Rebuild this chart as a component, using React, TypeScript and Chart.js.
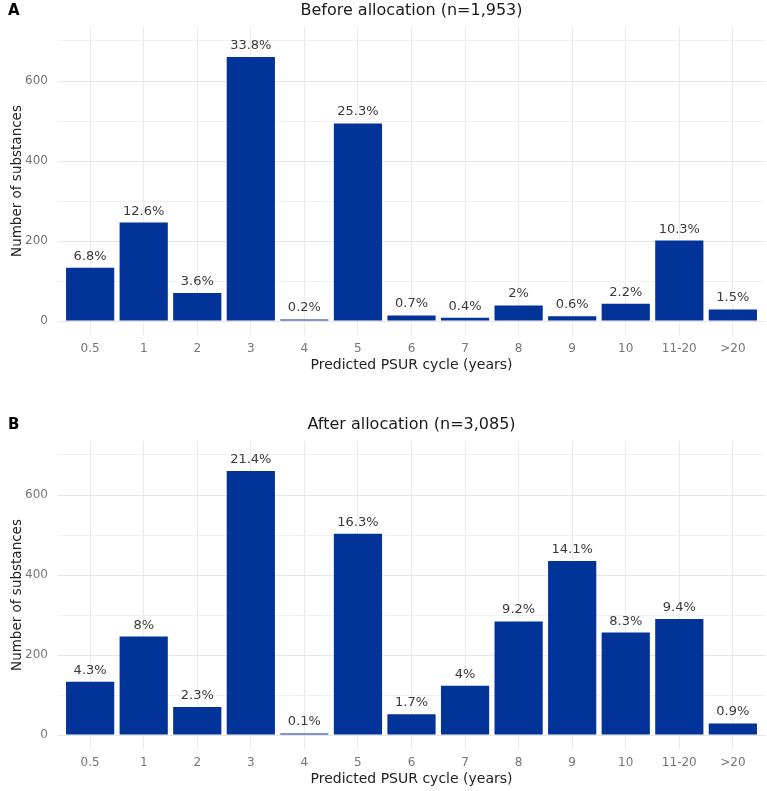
import React, { useEffect, useRef } from "react";
import { Chart, registerables } from "chart.js";

Chart.register(...registerables);

// PSUR cycle categories on the x axis
const categories = ["0.5", "1", "2", "3", "4", "5", "6", "7", "8", "9", "10", "11-20", ">20"];

// Number of substances per predicted cycle
const countsBefore = [133, 246, 70, 660, 4, 494, 14, 8, 39, 12, 43, 201, 29];
const countsAfter = [133, 246, 70, 660, 4, 503, 52, 123, 284, 435, 256, 290, 29];

const totalBefore = 1953;
const totalAfter = 3085;

// y grid: labelled every 200, lighter lines in between
const yGridValues = [0, 100, 200, 300, 400, 500, 600, 700];
const yLabelledValues = [0, 200, 400, 600];

const FONT = "'DejaVu Sans', Verdana, sans-serif";
const BAR_COLOR = "#013399";

function pctLabel(v: number, n: number): string {
  const s = ((v / n) * 100).toFixed(1);
  return (s.endsWith(".0") ? s.slice(0, -2) : s) + "%";
}

type PanelProps = {
  letter: string;
  title: string;
  counts: number[];
  total: number;
  top: number;
};

function Panel({ letter, title, counts, total, top }: PanelProps) {
  const ref = useRef<HTMLCanvasElement | null>(null);

  useEffect(() => {
    if (!ref.current) return;

    const textPlugin = {
      id: "panelText",
      afterDatasetsDraw(chart: any) {
        const { ctx } = chart;
        const meta = chart.getDatasetMeta(0);
        ctx.save();
        // value labels above bars
        ctx.fillStyle = "#3a3a3a";
        ctx.font = `13px ${FONT}`;
        ctx.textAlign = "center";
        ctx.textBaseline = "alphabetic";
        meta.data.forEach((bar: any, i: number) => {
          ctx.fillText(pctLabel(counts[i], total), bar.x, bar.y - 8);
        });
        ctx.restore();
      },
      afterDraw(chart: any) {
        const { ctx, chartArea } = chart;
        const cx = (chartArea.left + chartArea.right) / 2;
        ctx.save();
        // panel letter
        ctx.fillStyle = "#000";
        ctx.font = `bold 15px ${FONT}`;
        ctx.textAlign = "left";
        ctx.textBaseline = "middle";
        ctx.fillText(letter, 8, 11);
        // main title
        ctx.fillStyle = "#1a1a1a";
        ctx.font = `16px ${FONT}`;
        ctx.textAlign = "center";
        ctx.fillText(title, cx, 11);
        // x axis title
        ctx.fillStyle = "#222";
        ctx.font = `14px ${FONT}`;
        ctx.fillText("Predicted PSUR cycle (years)", cx, chartArea.bottom + 30);
        // y axis title
        ctx.font = `13.5px ${FONT}`;
        ctx.translate(17, (chartArea.top + chartArea.bottom) / 2);
        ctx.rotate(-Math.PI / 2);
        ctx.fillText("Number of substances", 0, 0);
        ctx.restore();
      },
    };

    const chart = new Chart(ref.current, {
      type: "bar",
      data: {
        datasets: [
          {
            data: counts.map((v, i) => ({ x: i, y: v })),
            backgroundColor: BAR_COLOR,
            borderWidth: 0,
            barPercentage: 0.9,
            categoryPercentage: 1,
          },
        ],
      },
      options: {
        animation: false,
        responsive: false,
        maintainAspectRatio: false,
        layout: { padding: { top: 27, left: 0, right: 2, bottom: 0 } },
        plugins: {
          legend: { display: false },
          tooltip: { enabled: false },
          title: { display: false },
        },
        scales: {
          x: {
            type: "linear",
            min: -0.6,
            max: categories.length - 1 + 0.6,
            offset: false,
            afterBuildTicks: (scale: any) => {
              scale.ticks = categories.map((_, i) => ({ value: i }));
            },
            afterFit: (scale: any) => {
              scale.height = 43;
            },
            grid: {
              offset: false,
              color: "#ebebeb",
              lineWidth: 1,
              drawTicks: false,
            },
            border: { display: false },
            ticks: {
              autoSkip: false,
              maxRotation: 0,
              padding: 7,
              color: "#757575",
              font: { family: FONT, size: 12 },
              callback: (v: any) => categories[Number(v)] ?? "",
            },
          },
          y: {
            type: "linear",
            min: -35,
            max: 735,
            afterBuildTicks: (scale: any) => {
              scale.ticks = yGridValues.map((v) => ({ value: v }));
            },
            afterFit: (scale: any) => {
              scale.width = 58;
            },
            grid: {
              color: (c: any) =>
                yLabelledValues.includes(c.tick?.value) ? "#e6e6e6" : "#f1f1f1",
              lineWidth: 1,
              drawTicks: false,
            },
            border: { display: false },
            ticks: {
              padding: 10,
              color: "#757575",
              font: { family: FONT, size: 12 },
              callback: (v: any) => (yLabelledValues.includes(Number(v)) ? String(v) : ""),
            },
          },
        },
      },
      plugins: [textPlugin],
    });

    return () => chart.destroy();
  }, [letter, title, counts, total]);

  return (
    <canvas
      ref={ref}
      width={767}
      height={378}
      style={{ position: "absolute", left: 0, top, width: 767, height: 378 }}
    />
  );
}

export default function App() {
  return (
    <div
      style={{
        position: "absolute",
        left: 0,
        top: 0,
        width: 767,
        height: 791,
        background: "#fff",
        overflow: "hidden",
      }}
    >
      <Panel letter="A" title="Before allocation (n=1,953)" counts={countsBefore} total={totalBefore} top={0} />
      <Panel letter="B" title="After allocation (n=3,085)" counts={countsAfter} total={totalAfter} top={414} />
    </div>
  );
}
